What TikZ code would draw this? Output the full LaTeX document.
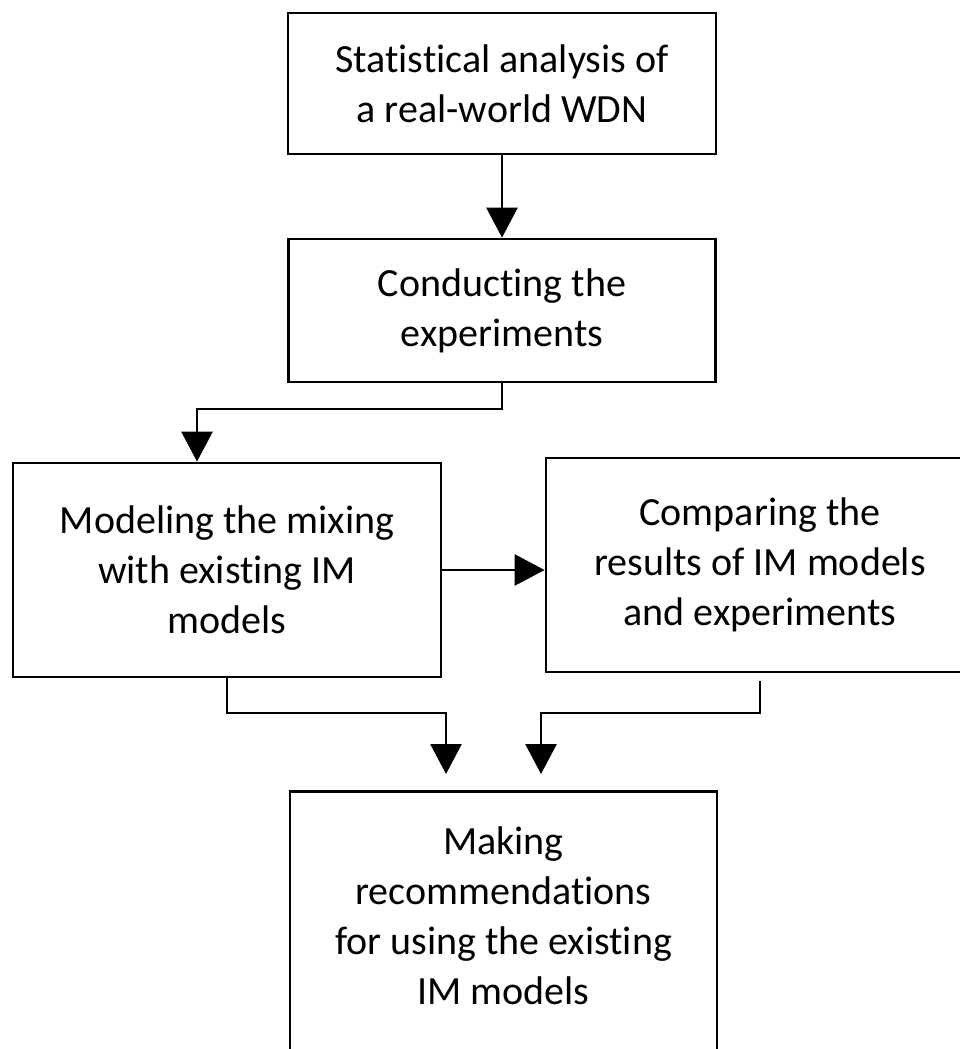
\documentclass[tikz,border=0pt]{standalone}
\usepackage{fontspec}
\setmainfont{Carlito}[RawFeature={-liga}]
\usetikzlibrary{arrows.meta}
\begin{document}
\begin{tikzpicture}[x=1pt,y=-1pt,
  box/.style={draw=black, line width=2.8pt, rectangle, inner sep=0pt, align=center, font=\fontsize{40}{50}\selectfont},
  txt/.style={inner sep=0pt, align=center, font=\fontsize{40}{50}\selectfont},
  link/.style={line width=2.8pt, -{Triangle[width=31pt,length=30pt]}}]
\useasboundingbox (0,0) rectangle (960,1049);
\clip (0,0) rectangle (960,1049);
\fill[white] (0,0) rectangle (960,1049);
\node[box, minimum width=428pt, minimum height=141pt] (a) at (502,83.5) {Statistical analysis of\\a real-world WDN};
\node[box, minimum width=427pt, minimum height=143pt] (b) at (502,310.5) {Conducting the\\experiments};
\node[box, minimum width=428pt, minimum height=214pt] (c) at (227,570) {Modeling the mixing\\with existing IM\\models};
\node[box, minimum width=428pt, minimum height=214pt] (d) at (760,565) {Comparing the\\results of IM models\\and experiments};
\node[box, minimum width=427pt, minimum height=300pt, anchor=north] (e) at (503.5,790) {};
\node[txt] (et) at (503.5,916) {Making\\recommendations\\for using the existing\\IM models};
\coordinate (k1) at (197,409);
\coordinate (mid) at (0,713);
\coordinate (tL) at (446,774);
\coordinate (tR) at (541,774);
\draw[link] (a.south) -- (b.north);
\draw[link] (b.south) |- (k1) -- (c.north -| k1);
\draw[link] (c.east) -- (d.west |- c.east);
\draw[link] (c.south) |- (tL |- mid) -- (tL);
\draw[link] ([yshift=-8pt]d.south) |- (tR |- mid) -- (tR);
\end{tikzpicture}
\end{document}
